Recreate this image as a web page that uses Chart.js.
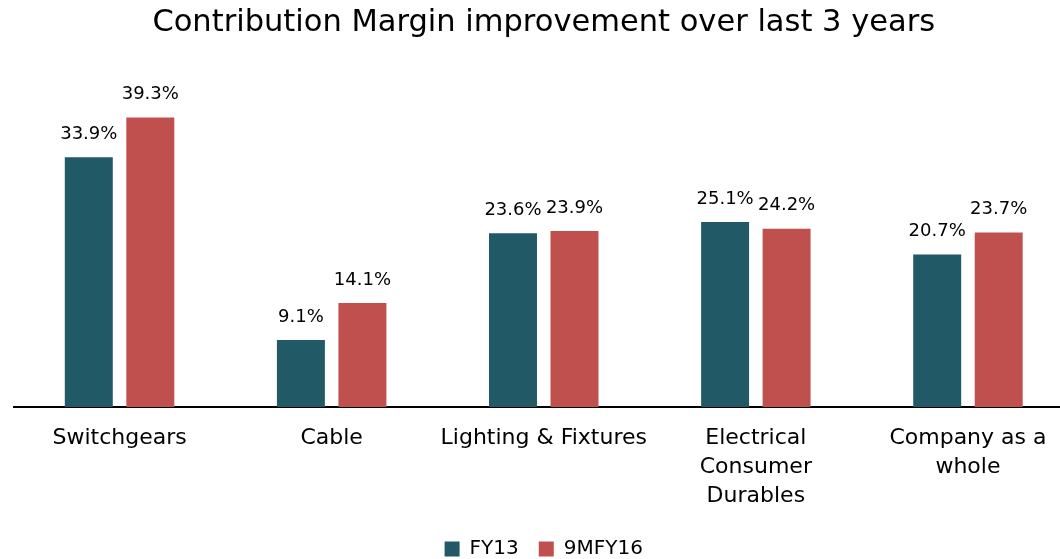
<!DOCTYPE html>
<html>
<head>
<meta charset="utf-8">
<script src="https://cdn.jsdelivr.net/npm/chart.js@4/dist/chart.umd.min.js"></script>
<style>
  body { margin: 0; background: #fff; overflow: hidden; }
  #wrap { width: 1074px; height: 559px; }
</style>
</head>
<body>
<div id="wrap"><canvas id="c"></canvas></div>
<script>
const categories = [
  'Switchgears',
  'Cable',
  'Lighting & Fixtures',
  ['Electrical', 'Consumer', 'Durables'],
  ['Company as a', 'whole']
];
const fy13 = [33.9, 9.1, 23.6, 25.1, 20.7];
const fy16 = [39.3, 14.1, 23.9, 24.2, 23.7];
const seriesNames = ['FY13', '9MFY16'];
const colors = ['#215967', '#C0504D'];

const FONT = "'DejaVu Sans', sans-serif";

// draws the value above each bar
const valueLabels = {
  id: 'valueLabels',
  afterDatasetsDraw(chart) {
    const ctx = chart.ctx;
    ctx.save();
    ctx.font = '18px ' + FONT;
    ctx.fillStyle = '#000';
    ctx.textAlign = 'center';
    ctx.textBaseline = 'middle';
    chart.data.datasets.forEach((ds, i) => {
      chart.getDatasetMeta(i).data.forEach((bar, j) => {
        ctx.fillText(ds.data[j].toFixed(1) + '%', bar.x, bar.y - 23);
      });
    });
    ctx.restore();
  }
};

new Chart(document.getElementById('c'), {
  type: 'bar',
  data: {
    labels: categories,
    datasets: [
      { label: seriesNames[0], data: fy13, backgroundColor: colors[0] },
      { label: seriesNames[1], data: fy16, backgroundColor: colors[1] }
    ]
  },
  options: {
    responsive: true,
    maintainAspectRatio: false,
    animation: false,
    categoryPercentage: 0.58,
    barPercentage: 0.78,
    layout: { padding: { left: 13.5, right: 0, top: 0, bottom: -10 } },
    plugins: {
      title: {
        display: true,
        text: 'Contribution Margin improvement over last 3 years',
        color: '#000',
        font: { family: FONT, size: 30.5, weight: 'normal' },
        padding: { top: 5, bottom: 34 }
      },
      legend: {
        position: 'bottom',
        labels: {
          color: '#000',
          font: { family: FONT, size: 20 },
          boxWidth: 15,
          boxHeight: 15,
          padding: 20
        }
      },
      tooltip: { enabled: false }
    },
    scales: {
      x: {
        grid: { display: false, drawTicks: false },
        border: { display: true, color: '#000', width: 2 },
        ticks: {
          color: '#000',
          font: { family: FONT, size: 22, lineHeight: 1.32 },
          padding: 17,
          maxRotation: 0,
          autoSkip: false
        },
        afterFit(scale) { scale.height -= 9; }
      },
      y: {
        display: false,
        min: 0,
        max: 45
      }
    }
  },
  plugins: [valueLabels]
});
</script>
</body>
</html>
